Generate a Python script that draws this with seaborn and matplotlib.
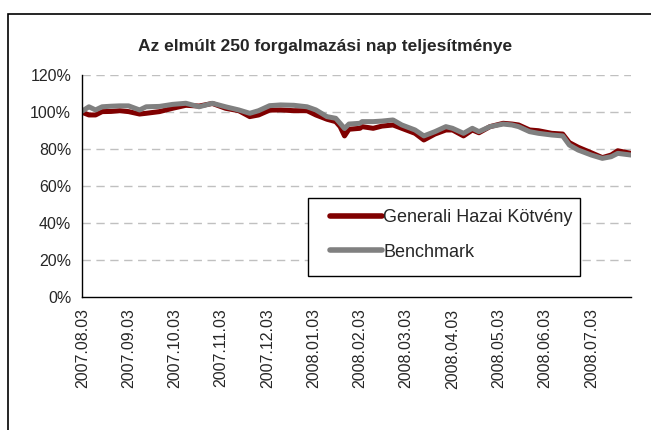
import matplotlib

matplotlib.use("Agg")
import matplotlib.pyplot as plt
import pandas as pd
import seaborn as sns
from matplotlib.patches import Rectangle


TITLE = "Az elmúlt 250 forgalmazási nap teljesítménye"

# trading-day index (0..249) of each sampled point
day_index = [
    0, 3, 6, 9, 13, 17, 21, 26, 29, 35, 41, 47, 53, 59, 65, 71, 76, 80,
    85, 90, 96, 102, 106, 111, 115, 117, 119, 121, 126, 127, 132, 136,
    141, 145, 151, 155, 160, 165, 168, 173, 177, 180, 185, 191, 195,
    198, 203, 207, 213, 218, 221, 225, 231, 236, 240, 243, 249,
]

generali = [
    99.7, 98.3, 98.3, 100.1, 100.2, 100.6, 100.1, 98.8, 99.2, 100.1,
    101.9, 103.5, 103.1, 104.5, 101.9, 100.6, 97.4, 98.3, 100.9, 101.0,
    100.6, 100.6, 98.3, 96.0, 94.7, 92.0, 87.0, 90.6, 91.1, 92.0, 91.1,
    92.3, 92.9, 91.1, 88.4, 84.8, 88.0, 90.2, 90.2, 87.0, 90.2, 88.7,
    92.0, 93.8, 93.4, 92.9, 90.2, 89.8, 88.4, 88.0, 83.4, 80.9, 77.9,
    75.3, 76.7, 79.0, 77.6,
]

benchmark = [
    100.4, 102.7, 101.0, 102.7, 103.0, 103.2, 103.2, 101.0, 102.7, 102.9,
    104.0, 104.6, 102.7, 104.6, 102.7, 101.0, 99.2, 100.6, 103.3, 103.7,
    103.5, 102.7, 101.0, 97.4, 96.5, 93.8, 91.0, 93.4, 93.8, 94.7, 94.7,
    95.0, 95.6, 92.9, 90.2, 87.0, 89.3, 92.0, 91.1, 88.4, 91.1, 89.3,
    92.0, 93.4, 92.9, 92.0, 89.3, 88.4, 87.5, 87.0, 82.1, 79.4, 76.7,
    74.9, 75.8, 77.6, 76.7,
]

tick_days = [0, 21, 42, 63, 84, 105, 126, 147, 168, 189, 210, 231]
tick_labels = [
    "2007.08.03", "2007.09.03", "2007.10.03", "2007.11.03",
    "2007.12.03", "2008.01.03", "2008.02.03", "2008.03.03",
    "2008.04.03", "2008.05.03", "2008.06.03", "2008.07.03",
]

y_ticks = [0, 20, 40, 60, 80, 100, 120]

RED = "#800000"
GREY = "#808080"

W, H = 651, 430


def main():
    sns.set_style("white")
    plt.rcParams["font.family"] = ["Liberation Sans", "DejaVu Sans"]

    df = pd.concat(
        [
            pd.DataFrame(
                {"day": day_index, "value": generali, "series": "Generali Hazai Kötvény"}
            ),
            pd.DataFrame({"day": day_index, "value": benchmark, "series": "Benchmark"}),
        ],
        ignore_index=True,
    )

    fig = plt.figure(figsize=(W / 100, H / 100), dpi=100)
    ax = fig.add_axes([82.3 / W, 132.7 / H, 548.7 / W, 222.6 / H])

    for y in y_ticks[1:]:
        ax.axhline(y, color="#c0c0c0", lw=1, ls=(0, (6, 4)), zorder=0)

    sns.lineplot(
        data=df,
        x="day",
        y="value",
        hue="series",
        palette={"Generali Hazai Kötvény": RED, "Benchmark": GREY},
        linewidth=3.6,
        estimator=None,
        sort=False,
        ax=ax,
        legend=False,
    )

    ax.set_xlim(0, 249)
    ax.set_ylim(0, 120)
    ax.set_xticks(tick_days)
    ax.set_xticklabels(tick_labels, rotation=90, fontsize=11.5)
    ax.set_yticks(y_ticks)
    ax.set_yticklabels([f"{v}%" for v in y_ticks], fontsize=11.5)
    ax.set_xlabel("")
    ax.set_ylabel("")
    ax.tick_params(axis="both", direction="out", length=5, width=1, color="black", pad=3)

    for side in ["top", "right"]:
        ax.spines[side].set_visible(False)
    for side in ["left", "bottom"]:
        ax.spines[side].set_color("black")
        ax.spines[side].set_linewidth(1)

    fig.text(0.5, 1 - 47 / H, TITLE, ha="center", va="center",
             fontsize=12.5, fontweight="bold")

    # legend box drawn separately so the padding can match
    fig.add_artist(
        Rectangle(
            (308 / W, 1 - 276 / H), 272 / W, 78 / H,
            transform=fig.transFigure, facecolor="white", edgecolor="black",
            lw=1, zorder=5,
        )
    )
    handles = [
        plt.Line2D([], [], color=RED, lw=4, solid_capstyle="round"),
        plt.Line2D([], [], color=GREY, lw=4, solid_capstyle="round"),
    ]
    leg = fig.legend(
        handles,
        ["Generali Hazai Kötvény", "Benchmark"],
        loc="center left",
        bbox_to_anchor=(330 / W, 1 - 235 / H),
        fontsize=13,
        frameon=False,
        handlelength=2.9,
        handletextpad=0.05,
        labelspacing=0.95,
        borderpad=0,
        borderaxespad=0,
    )
    leg.set_zorder(6)

    fig.add_artist(
        Rectangle(
            (7.5 / W, -0.1), 1.0, 1.1 - 13.5 / H,
            transform=fig.transFigure, fill=False, edgecolor="black", lw=1.2,
        )
    )

    fig.savefig("out.png", dpi=100)


if __name__ == "__main__":
    main()
